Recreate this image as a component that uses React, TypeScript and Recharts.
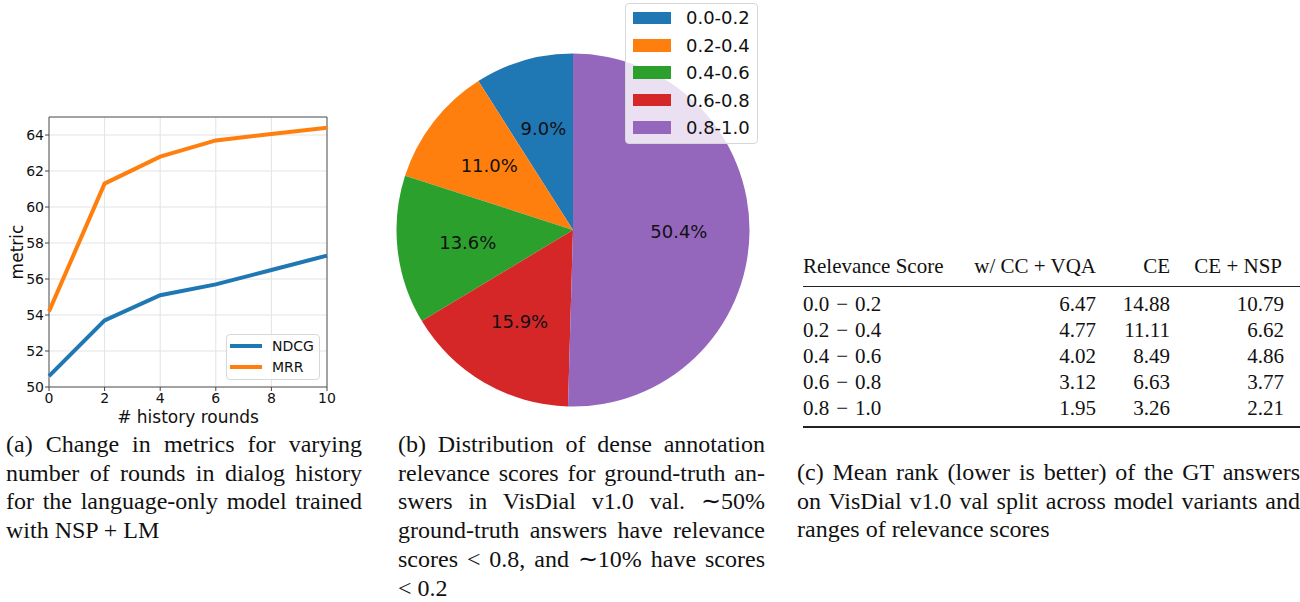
import React from 'react';
import { LineChart, Line, XAxis, YAxis, CartesianGrid, ReferenceArea, Legend, PieChart, Pie, Cell } from 'recharts';

// (a) metrics vs. number of history rounds
const rounds = [0, 2, 4, 6, 8, 10];
const ndcg = [50.6, 53.7, 55.1, 55.7, 56.5, 57.3];
const mrr = [54.2, 61.3, 62.8, 63.7, 64.05, 64.4];
const xTicks = [0, 2, 4, 6, 8, 10];
const yTicks = [50, 52, 54, 56, 58, 60, 62, 64];

// (b) relevance score distribution
const bins = ['0.0-0.2', '0.2-0.4', '0.4-0.6', '0.6-0.8', '0.8-1.0'];
const shares = [9.0, 11.0, 13.6, 15.9, 50.4];
const binColors = ['#1f77b4', '#ff7f0e', '#2ca02c', '#d62728', '#9467bd'];

// (c) mean rank table
const tableHeader = ['Relevance Score', 'w/ CC + VQA', 'CE', 'CE + NSP'];
const rangeLabels = ['0.0 \u200a−\u200a 0.2', '0.2 \u200a−\u200a 0.4', '0.4 \u200a−\u200a 0.6', '0.6 \u200a−\u200a 0.8', '0.8 \u200a−\u200a 1.0'];
const ccVqa = [6.47, 4.77, 4.02, 3.12, 1.95];
const ce = [14.88, 11.11, 8.49, 6.63, 3.26];
const ceNsp = [10.79, 6.62, 4.86, 3.77, 2.21];

const captionA = [
  '(a) Change in metrics for varying',
  'number of rounds in dialog history',
  'for the language-only model trained',
  'with NSP + LM',
];
const captionB = [
  '(b) Distribution of dense annotation',
  'relevance scores for ground-truth an-',
  'swers in VisDial v1.0 val.  ∼50%',
  'ground-truth answers have relevance',
  'scores < 0.8, and ∼10% have scores',
  '< 0.2',
];
const captionC = [
  '(c) Mean rank (lower is better) of the GT answers',
  'on VisDial v1.0 val split across model variants and',
  'ranges of relevance scores',
];

const historyData = rounds.map((r, i) => ({ round: r, ndcg: ndcg[i], mrr: mrr[i] }));
const pieData = bins.map((b, i) => ({ name: b, value: shares[i] }));

const serif = '"Liberation Serif", "Times New Roman", serif';
const sans = '"DejaVu Sans", sans-serif';

const HistoryLegend = () => (
  <div style={{ width: 94, height: 46, boxSizing: 'border-box', border: '1px solid #d8d8d8', borderRadius: 4, background: 'rgba(255,255,255,0.8)', paddingTop: 0.5 }}>
    {[{ name: 'NDCG', color: '#1f77b4' }, { name: 'MRR', color: '#ff7f0e' }].map((s) => (
      <div key={s.name} style={{ display: 'flex', alignItems: 'center', height: 21 }}>
        <span style={{ display: 'inline-block', width: 32, height: 3.5, marginLeft: 3, background: s.color }} />
        <span style={{ marginLeft: 10, fontSize: 14, color: '#111', lineHeight: '21px' }}>{s.name}</span>
      </div>
    ))}
  </div>
);

const HistoryChart = () => (
  <LineChart width={340} height={330} data={historyData} margin={{ top: 17, right: 13, left: 19, bottom: 3 }}>
    <CartesianGrid stroke="#e3e3e3" strokeWidth={1} />
    <XAxis
      dataKey="round"
      type="number"
      domain={[0, 10]}
      ticks={xTicks}
      height={40}
      axisLine={false}
      tickLine={{ stroke: '#444' }}
      tickSize={4}
      tickMargin={2}
      tick={{ fill: '#111', fontSize: 14 }}
      label={{ value: '# history rounds', position: 'insideBottom', offset: 4, fill: '#111', fontSize: 17 }}
    />
    <YAxis
      type="number"
      domain={[50, 65]}
      ticks={yTicks}
      width={30}
      axisLine={false}
      tickLine={{ stroke: '#444' }}
      tickSize={4}
      tickMargin={1}
      tick={{ fill: '#111', fontSize: 14 }}
      label={{ value: 'metric', angle: -90, position: 'insideLeft', offset: -2.5, textAnchor: 'middle', fill: '#111', fontSize: 17 }}
    />
    <ReferenceArea x1={0} x2={10} y1={50} y2={65} fill="none" stroke="#555" strokeWidth={1} />
    <Line type="linear" dataKey="ndcg" name="NDCG" stroke="#1f77b4" strokeWidth={4} dot={false} isAnimationActive={false} />
    <Line type="linear" dataKey="mrr" name="MRR" stroke="#ff7f0e" strokeWidth={4} dot={false} isAnimationActive={false} />
    <Legend layout="vertical" align="center" verticalAlign="middle" content={() => <HistoryLegend />} wrapperStyle={{ left: 226, top: 234, width: 94 }} />
  </LineChart>
);

const RADIAN = Math.PI / 180;
const renderPct = (props: any) => {
  const { cx, cy, midAngle, outerRadius, value } = props;
  const r = outerRadius * 0.6;
  const x = cx + r * Math.cos(-midAngle * RADIAN);
  const y = cy + r * Math.sin(-midAngle * RADIAN);
  return (
    <text x={x} y={y} textAnchor="middle" dominantBaseline="central" fontSize={18} fill="#111">
      {`${Number(value).toFixed(1)}%`}
    </text>
  );
};

const PieLegend = () => (
  <div style={{ width: 133, height: 141, boxSizing: 'border-box', border: '1px solid #d8d8d8', borderRadius: 4, background: 'rgba(255,255,255,0.8)', paddingTop: 0.6 }}>
    {bins.map((b, i) => (
      <div key={b} style={{ display: 'flex', alignItems: 'center', height: 27.4 }}>
        <span style={{ display: 'inline-block', width: 38, height: 12.7, marginLeft: 6.7, background: binColors[i] }} />
        <span style={{ marginLeft: 15.3, fontSize: 18, color: '#111', lineHeight: '27px' }}>{b}</span>
      </div>
    ))}
  </div>
);

const RelevancePie = () => (
  <PieChart width={400} height={420} margin={{ top: 0, right: 0, left: 0, bottom: 0 }}>
    <Pie
      data={pieData}
      dataKey="value"
      nameKey="name"
      cx={193}
      cy={230}
      outerRadius={176.5}
      startAngle={90}
      endAngle={450}
      stroke="none"
      labelLine={false}
      label={renderPct}
      isAnimationActive={false}
    >
      {pieData.map((d, i) => (
        <Cell key={d.name} fill={binColors[i]} stroke="none" />
      ))}
    </Pie>
    <Legend layout="vertical" align="center" verticalAlign="middle" content={() => <PieLegend />} wrapperStyle={{ left: 245, top: 2.7, width: 133 }} />
  </PieChart>
);

// table rows: font 21px, line-height 26px -> baseline sits 20.1px below the box top
const tBase = (b: number) => b - 20.1;
const colRight = [1096, 1170, 1284];

const RankTable = () => {
  const cellStyle: React.CSSProperties = { position: 'absolute', fontSize: 21, lineHeight: '26px', whiteSpace: 'nowrap', color: '#111' };
  const headerBase = 273;
  const rowBase = (i: number) => 311.3 + 26 * i;
  const cols = [ccVqa, ce, ceNsp];
  return (
    <div style={{ position: 'absolute', left: 0, top: 0, width: 1300, height: 602, fontFamily: serif }}>
      <span style={{ ...cellStyle, left: 803, top: tBase(headerBase) }}>{tableHeader[0]}</span>
      {tableHeader.slice(1).map((h, j) => (
        <span key={h} style={{ ...cellStyle, right: 1300 - colRight[j] + (j === 2 ? 2 : 0), top: tBase(headerBase) }}>{h}</span>
      ))}
      <div style={{ position: 'absolute', left: 803, width: 497, top: 285.5, height: 1.8, background: '#222' }} />
      {rangeLabels.map((lab, i) => (
        <React.Fragment key={lab}>
          <span style={{ ...cellStyle, left: 803, top: tBase(rowBase(i)) }}>{lab}</span>
          {cols.map((c, j) => (
            <span key={j} style={{ ...cellStyle, right: 1300 - colRight[j], top: tBase(rowBase(i)) }}>{c[i].toFixed(2)}</span>
          ))}
        </React.Fragment>
      ))}
      <div style={{ position: 'absolute', left: 803, width: 497, top: 426.3, height: 2, background: '#222' }} />
    </div>
  );
};

// captions: font 24px, line-height 28.7px -> baseline ~22.4px below the box top
const Caption = ({ lines, left, width, firstBase }: { lines: string[]; left: number; width: number; firstBase: number }) => (
  <div style={{ position: 'absolute', left, top: firstBase - 22.4, width, fontFamily: serif, fontSize: 24, lineHeight: '28.7px', color: '#111' }}>
    {lines.map((l, i) => (
      <div key={i} style={{ textAlign: 'justify', textAlignLast: i === lines.length - 1 ? 'left' : 'justify', height: 28.7 }}>{l}</div>
    ))}
  </div>
);

export default function App() {
  return (
    <div style={{ position: 'absolute', left: 0, top: 0, width: 1300, height: 602, background: '#fff', overflow: 'hidden' }}>
      <div style={{ position: 'absolute', left: 0, top: 100, fontFamily: sans }}>
        <HistoryChart />
      </div>
      <div style={{ position: 'absolute', left: 380, top: 0, fontFamily: sans }}>
        <RelevancePie />
      </div>
      <RankTable />
      <Caption lines={captionA} left={6} width={356} firstBase={452.5} />
      <Caption lines={captionB} left={398} width={367} firstBase={452.5} />
      <Caption lines={captionC} left={797} width={503} firstBase={480.5} />
    </div>
  );
}
